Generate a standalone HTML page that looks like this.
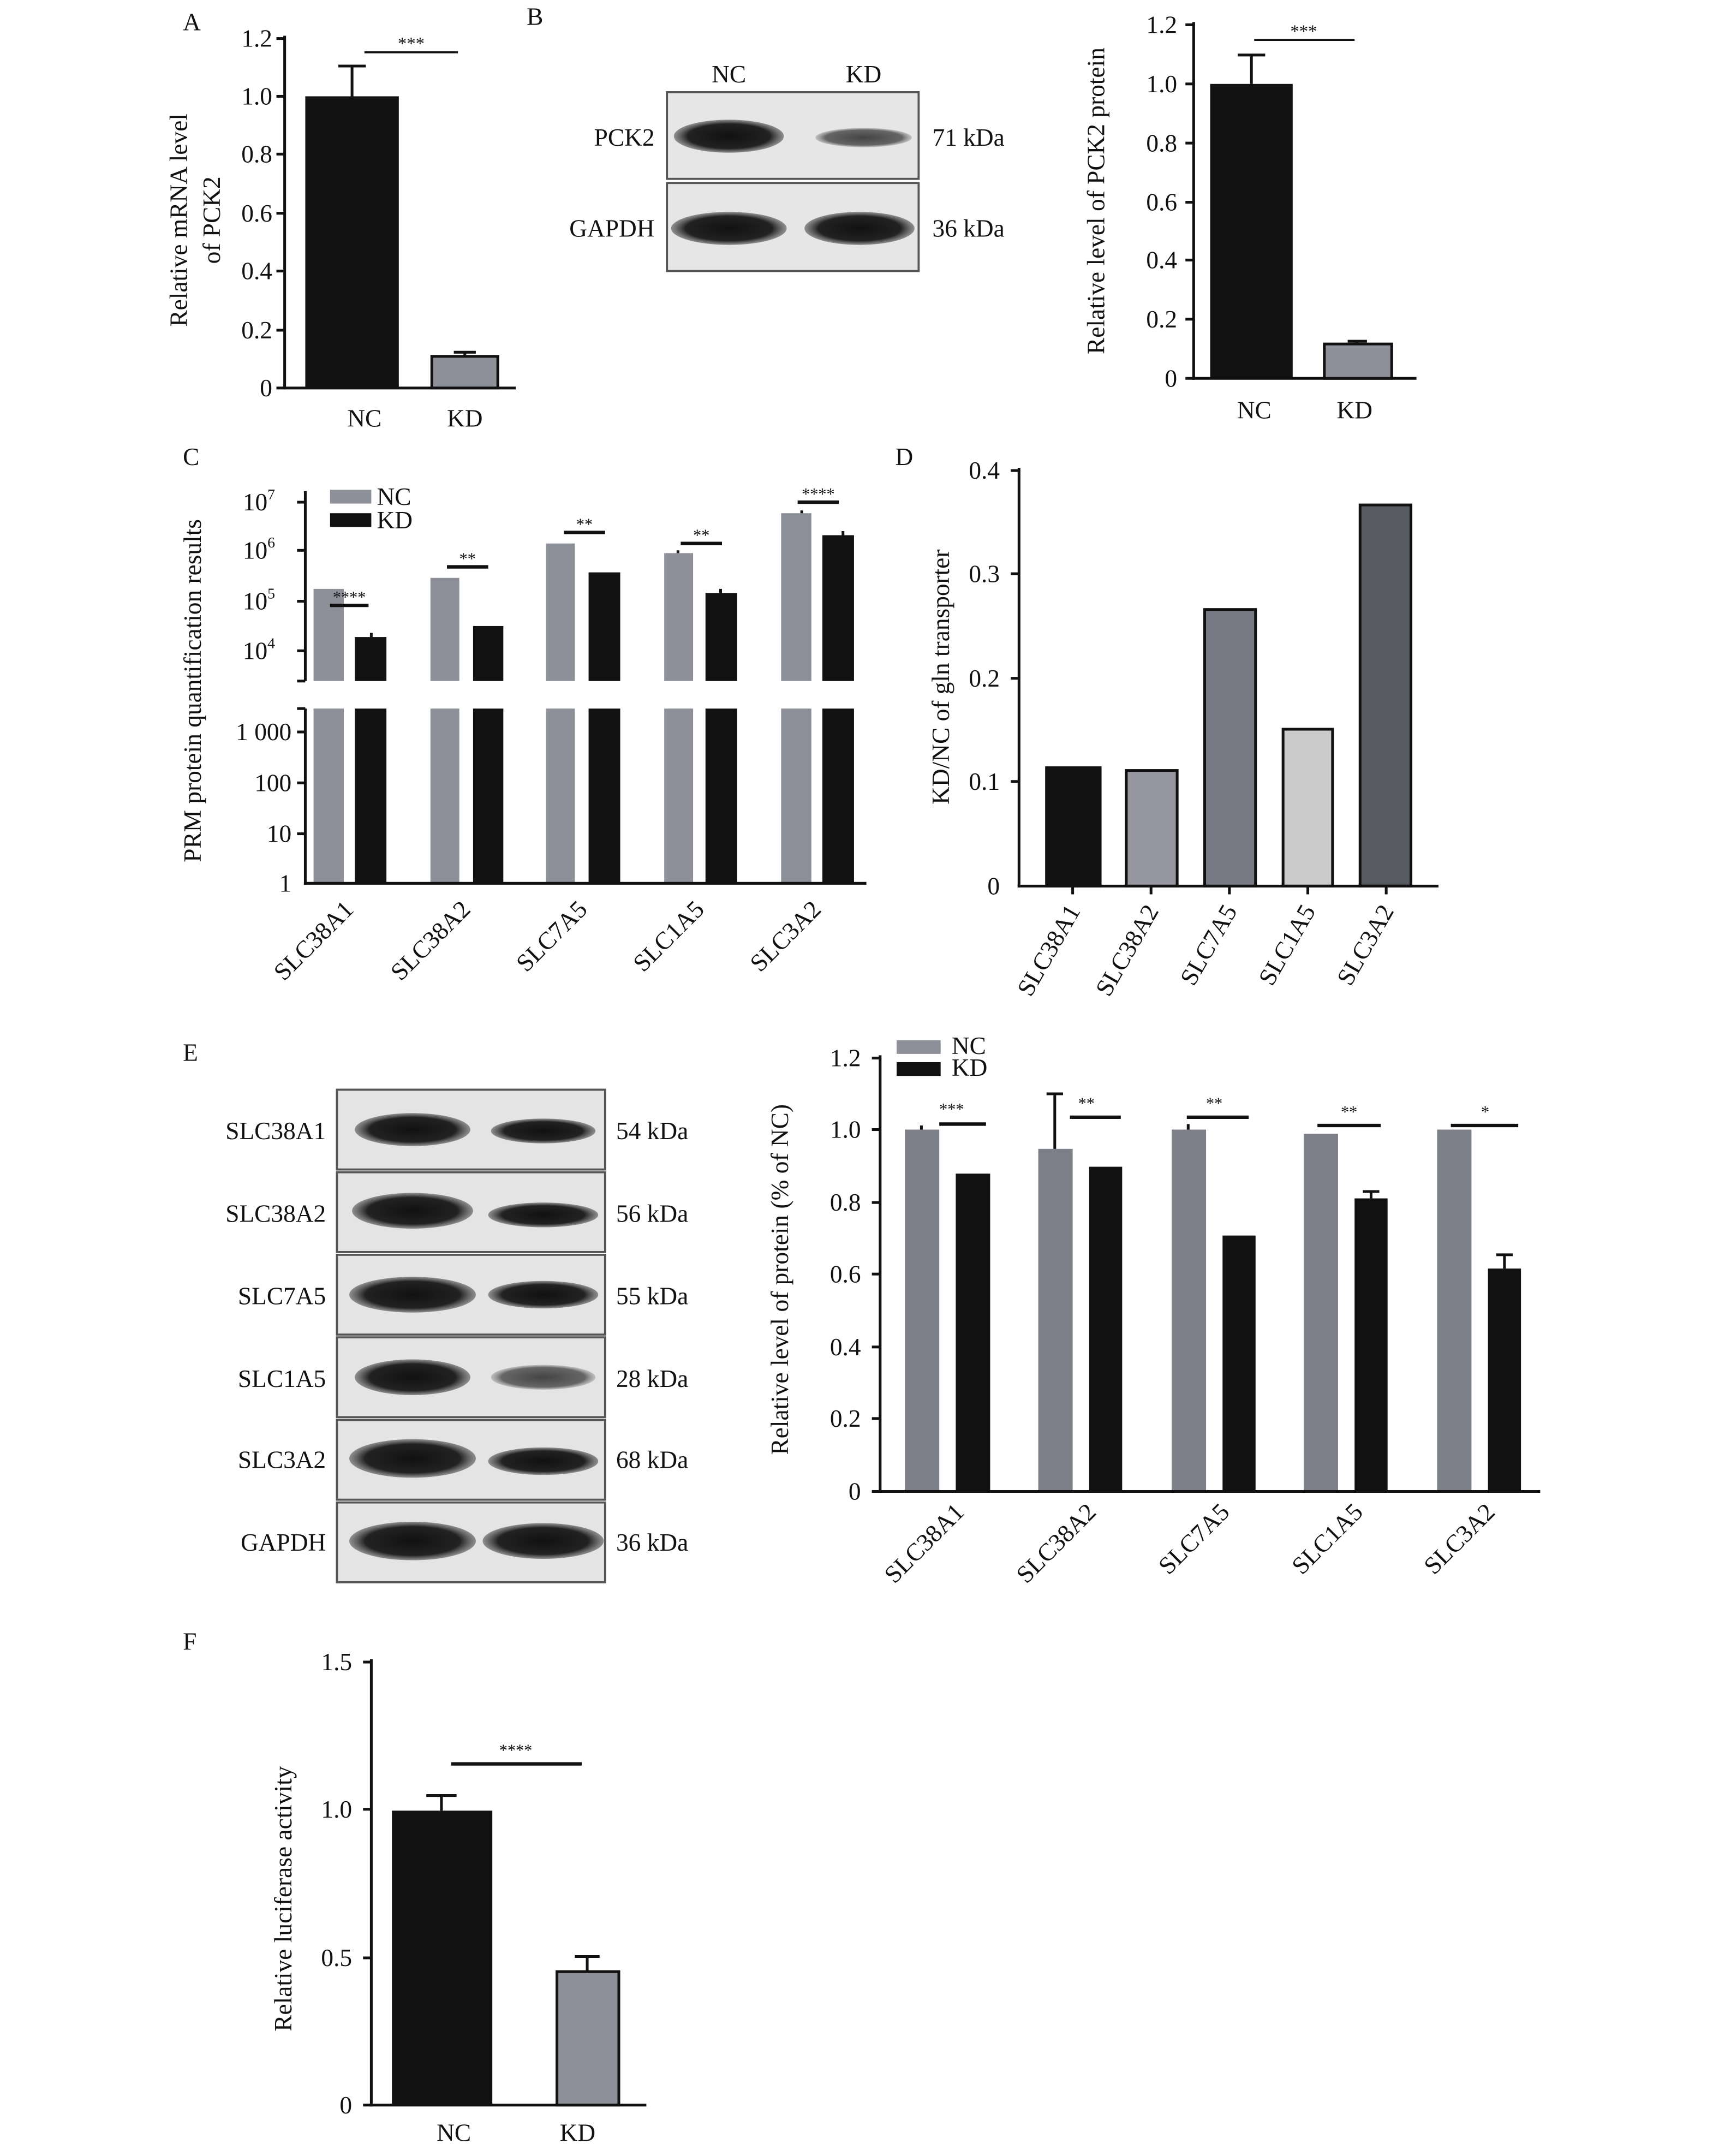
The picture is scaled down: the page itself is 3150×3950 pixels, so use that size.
<!DOCTYPE html>
<html><head><meta charset="utf-8"><style>html,body{margin:0;padding:0;background:#fff}svg{display:block}</style></head>
<body>
<svg width="3150" height="3950" viewBox="0 0 1250 1567" preserveAspectRatio="none" xmlns="http://www.w3.org/2000/svg" font-family="Liberation Serif, serif" font-size="18" fill="#111">
<defs>
<radialGradient id="band" cx="50%" cy="50%" r="50%"><stop offset="0" stop-color="#111"/><stop offset="0.75" stop-color="#222"/><stop offset="1" stop-color="#555" stop-opacity="0.6"/></radialGradient>
<radialGradient id="bandw" cx="50%" cy="50%" r="50%"><stop offset="0" stop-color="#444"/><stop offset="0.8" stop-color="#666"/><stop offset="1" stop-color="#999" stop-opacity="0.5"/></radialGradient>
</defs>
<rect width="1250" height="1567" fill="#fff"/>

<!-- Panel A -->
<text x="133" y="22">A</text>
<g stroke="#111" stroke-width="2" fill="none">
<line x1="207" y1="26" x2="207" y2="283"/><line x1="206" y1="282" x2="375" y2="282"/>
<line x1="201" y1="28" x2="207" y2="28"/><line x1="201" y1="70" x2="207" y2="70"/><line x1="201" y1="112" x2="207" y2="112"/><line x1="201" y1="155" x2="207" y2="155"/><line x1="201" y1="197" x2="207" y2="197"/><line x1="201" y1="240" x2="207" y2="240"/><line x1="201" y1="282" x2="207" y2="282"/>
<line x1="256" y1="70" x2="256" y2="48"/><line x1="246" y1="48" x2="266" y2="48"/>
<line x1="338" y1="259" x2="338" y2="256"/><line x1="330" y1="256" x2="346" y2="256"/>
<line x1="265" y1="38" x2="333" y2="38" stroke-width="1.5"/>
</g>
<rect x="222" y="70" width="68" height="212" fill="#111"/>
<rect x="314" y="259" width="48" height="23" fill="#8d9099" stroke="#111" stroke-width="2"/>
<text x="299" y="36" font-size="13" text-anchor="middle">***</text>
<g text-anchor="end"><text x="198" y="34">1.2</text><text x="198" y="76">1.0</text><text x="198" y="118">0.8</text><text x="198" y="161">0.6</text><text x="198" y="203">0.4</text><text x="198" y="246">0.2</text><text x="198" y="288">0</text></g>
<text x="265" y="310" text-anchor="middle">NC</text><text x="338" y="310" text-anchor="middle">KD</text>
<text transform="translate(136,160) rotate(-90)" text-anchor="middle">Relative mRNA level</text>
<text transform="translate(160,160) rotate(-90)" text-anchor="middle">of PCK2</text>

<!-- Panel B blot -->
<text x="383" y="18">B</text>
<text x="530" y="60" text-anchor="middle">NC</text><text x="628" y="60" text-anchor="middle">KD</text>
<rect x="485" y="67" width="183" height="63" fill="#e6e6e6" stroke="#555" stroke-width="1.5"/>
<rect x="485" y="133" width="183" height="64" fill="#e6e6e6" stroke="#555" stroke-width="1.5"/>
<ellipse cx="530" cy="99" rx="40" ry="12" fill="url(#band)"/>
<ellipse cx="628" cy="100" rx="35" ry="7" fill="url(#bandw)"/>
<ellipse cx="530" cy="166" rx="42" ry="12" fill="url(#band)"/>
<ellipse cx="625" cy="166" rx="40" ry="12" fill="url(#band)"/>
<text x="476" y="106" text-anchor="end">PCK2</text><text x="476" y="172" text-anchor="end">GAPDH</text>
<text x="678" y="106">71 kDa</text><text x="678" y="172">36 kDa</text>

<!-- Panel B chart -->
<g stroke="#111" stroke-width="2" fill="none">
<line x1="868" y1="16" x2="868" y2="276"/><line x1="867" y1="275" x2="1030" y2="275"/>
<line x1="862" y1="18" x2="868" y2="18"/><line x1="862" y1="61" x2="868" y2="61"/><line x1="862" y1="104" x2="868" y2="104"/><line x1="862" y1="147" x2="868" y2="147"/><line x1="862" y1="189" x2="868" y2="189"/><line x1="862" y1="232" x2="868" y2="232"/><line x1="862" y1="275" x2="868" y2="275"/>
<line x1="910" y1="61" x2="910" y2="40"/><line x1="900" y1="40" x2="920" y2="40"/>
<line x1="987" y1="250" x2="987" y2="248"/><line x1="980" y1="248" x2="994" y2="248"/>
<line x1="912" y1="29" x2="985" y2="29" stroke-width="1.5"/>
</g>
<rect x="880" y="61" width="60" height="214" fill="#111"/>
<rect x="963" y="250" width="49" height="25" fill="#8d9099" stroke="#111" stroke-width="2"/>
<text x="948" y="27" font-size="13" text-anchor="middle">***</text>
<g text-anchor="end"><text x="856" y="24">1.2</text><text x="856" y="67">1.0</text><text x="856" y="110">0.8</text><text x="856" y="153">0.6</text><text x="856" y="195">0.4</text><text x="856" y="238">0.2</text><text x="856" y="281">0</text></g>
<text x="912" y="304" text-anchor="middle">NC</text><text x="985" y="304" text-anchor="middle">KD</text>
<text transform="translate(803,146) rotate(-90)" text-anchor="middle">Relative level of PCK2 protein</text>

<!-- Panel C -->
<text x="133" y="338">C</text>
<g fill="#8d9099">
<rect x="228" y="428" width="22" height="214"/><rect x="313" y="420" width="21" height="222"/><rect x="397" y="395" width="21" height="247"/><rect x="483" y="402" width="21" height="240"/><rect x="568" y="373" width="22" height="269"/>
</g>
<g fill="#111">
<rect x="258" y="463" width="23" height="179"/><rect x="344" y="455" width="22" height="187"/><rect x="428" y="416" width="23" height="226"/><rect x="513" y="431" width="23" height="211"/><rect x="598" y="389" width="23" height="253"/>
</g>
<rect x="215" y="495" width="420" height="20" fill="#fff"/>
<g stroke="#111" stroke-width="2" fill="none">
<line x1="222" y1="357" x2="222" y2="495"/><line x1="222" y1="515" x2="222" y2="643"/><line x1="221" y1="642" x2="630" y2="642"/>
<line x1="216" y1="365" x2="222" y2="365"/><line x1="216" y1="400" x2="222" y2="400"/><line x1="216" y1="437" x2="222" y2="437"/><line x1="216" y1="473" x2="222" y2="473"/><line x1="216" y1="495" x2="222" y2="495"/>
<line x1="216" y1="515" x2="222" y2="515"/><line x1="216" y1="532" x2="222" y2="532"/><line x1="216" y1="569" x2="222" y2="569"/><line x1="216" y1="606" x2="222" y2="606"/>
<g stroke-width="2.5"><line x1="240" y1="440" x2="268" y2="440"/><line x1="325" y1="412" x2="355" y2="412"/><line x1="410" y1="387" x2="440" y2="387"/><line x1="495" y1="395" x2="525" y2="395"/><line x1="580" y1="365" x2="610" y2="365"/></g>
<line x1="270" y1="460" x2="270" y2="463"/><line x1="583" y1="371" x2="583" y2="373"/><line x1="613" y1="386" x2="613" y2="389"/><line x1="493" y1="400" x2="493" y2="402"/><line x1="524" y1="428" x2="524" y2="431"/>
</g>
<g font-size="12" text-anchor="middle"><text x="254" y="438">****</text><text x="340" y="410">**</text><text x="425" y="385">**</text><text x="510" y="393">**</text><text x="595" y="363">****</text></g>
<rect x="240" y="356" width="30" height="10" fill="#8d9099"/><rect x="240" y="373" width="30" height="10" fill="#111"/>
<text x="274" y="367">NC</text><text x="274" y="384">KD</text>
<g text-anchor="end"><text x="200" y="371">10<tspan font-size="11" dy="-8">7</tspan></text><text x="200" y="406">10<tspan font-size="11" dy="-8">6</tspan></text><text x="200" y="443">10<tspan font-size="11" dy="-8">5</tspan></text><text x="200" y="479">10<tspan font-size="11" dy="-8">4</tspan></text>
<text x="212" y="538">1 000</text><text x="212" y="575">100</text><text x="212" y="612">10</text><text x="212" y="648">1</text></g>
<text transform="translate(146,502) rotate(-90)" text-anchor="middle">PRM protein quantification results</text>
<g text-anchor="end"><text transform="translate(258,662) rotate(-45)">SLC38A1</text><text transform="translate(343,662) rotate(-45)">SLC38A2</text><text transform="translate(428,662) rotate(-45)">SLC7A5</text><text transform="translate(513,662) rotate(-45)">SLC1A5</text><text transform="translate(598,662) rotate(-45)">SLC3A2</text></g>

<!-- Panel D -->
<text x="651" y="338">D</text>
<g stroke="#111" stroke-width="2">
<rect x="761" y="558" width="39" height="86" fill="#111"/>
<rect x="819" y="560" width="37" height="84" fill="#95969f"/>
<rect x="876" y="443" width="37" height="201" fill="#777a83"/>
<rect x="933" y="530" width="36" height="114" fill="#cbcbcb"/>
<rect x="989" y="367" width="37" height="277" fill="#585a62"/>
</g>
<g stroke="#111" stroke-width="2" fill="none">
<line x1="741" y1="340" x2="741" y2="645"/><line x1="740" y1="644" x2="1046" y2="644"/>
<line x1="735" y1="342" x2="741" y2="342"/><line x1="735" y1="417" x2="741" y2="417"/><line x1="735" y1="493" x2="741" y2="493"/><line x1="735" y1="568" x2="741" y2="568"/>
<line x1="780" y1="644" x2="780" y2="650"/><line x1="837" y1="644" x2="837" y2="650"/><line x1="894" y1="644" x2="894" y2="650"/><line x1="951" y1="644" x2="951" y2="650"/><line x1="1008" y1="644" x2="1008" y2="650"/>
</g>
<g text-anchor="end"><text x="727" y="348">0.4</text><text x="727" y="423">0.3</text><text x="727" y="499">0.2</text><text x="727" y="574">0.1</text><text x="727" y="650">0</text></g>
<text transform="translate(690,492) rotate(-90)" text-anchor="middle">KD/NC of gln transporter</text>
<g text-anchor="end"><text transform="translate(786,662) rotate(-60)">SLC38A1</text><text transform="translate(843,662) rotate(-60)">SLC38A2</text><text transform="translate(900,662) rotate(-60)">SLC7A5</text><text transform="translate(957,662) rotate(-60)">SLC1A5</text><text transform="translate(1014,662) rotate(-60)">SLC3A2</text></g>

<!-- Panel E blot -->
<text x="133" y="771">E</text>
<g fill="#e4e4e4" stroke="#555" stroke-width="1.5">
<rect x="245" y="792" width="195" height="58"/><rect x="245" y="852" width="195" height="58"/><rect x="245" y="912" width="195" height="58"/><rect x="245" y="972" width="195" height="58"/><rect x="245" y="1032" width="195" height="58"/><rect x="245" y="1092" width="195" height="58"/>
</g>
<ellipse cx="300" cy="821" rx="42" ry="12" fill="url(#band)"/><ellipse cx="395" cy="822" rx="38" ry="9" fill="url(#band)"/>
<ellipse cx="300" cy="880" rx="44" ry="13" fill="url(#band)"/><ellipse cx="395" cy="883" rx="40" ry="9" fill="url(#band)"/>
<ellipse cx="300" cy="941" rx="46" ry="13" fill="url(#band)"/><ellipse cx="395" cy="941" rx="40" ry="10" fill="url(#band)"/>
<ellipse cx="300" cy="1001" rx="42" ry="13" fill="url(#band)"/><ellipse cx="395" cy="1001" rx="38" ry="9" fill="url(#bandw)"/>
<ellipse cx="300" cy="1060" rx="46" ry="14" fill="url(#band)"/><ellipse cx="395" cy="1062" rx="40" ry="10" fill="url(#band)"/>
<ellipse cx="300" cy="1120" rx="46" ry="14" fill="url(#band)"/><ellipse cx="395" cy="1120" rx="44" ry="13" fill="url(#band)"/>
<g text-anchor="end"><text x="237" y="828">SLC38A1</text><text x="237" y="888">SLC38A2</text><text x="237" y="948">SLC7A5</text><text x="237" y="1008">SLC1A5</text><text x="237" y="1067">SLC3A2</text><text x="237" y="1127">GAPDH</text></g>
<g><text x="448" y="828">54 kDa</text><text x="448" y="888">56 kDa</text><text x="448" y="948">55 kDa</text><text x="448" y="1008">28 kDa</text><text x="448" y="1067">68 kDa</text><text x="448" y="1127">36 kDa</text></g>

<!-- Panel E chart -->
<g fill="#7d8088">
<rect x="658" y="821" width="25" height="263"/><rect x="755" y="835" width="25" height="249"/><rect x="852" y="821" width="25" height="263"/><rect x="948" y="824" width="25" height="260"/><rect x="1045" y="821" width="25" height="263"/>
</g>
<g fill="#111">
<rect x="695" y="853" width="25" height="231"/><rect x="792" y="848" width="24" height="236"/><rect x="889" y="898" width="24" height="186"/><rect x="985" y="871" width="24" height="213"/><rect x="1082" y="922" width="24" height="162"/>
</g>
<g stroke="#111" stroke-width="2" fill="none">
<line x1="640" y1="767" x2="640" y2="1085"/><line x1="639" y1="1084" x2="1120" y2="1084"/>
<line x1="634" y1="769" x2="640" y2="769"/><line x1="634" y1="821" x2="640" y2="821"/><line x1="634" y1="874" x2="640" y2="874"/><line x1="634" y1="926" x2="640" y2="926"/><line x1="634" y1="979" x2="640" y2="979"/><line x1="634" y1="1031" x2="640" y2="1031"/><line x1="634" y1="1084" x2="640" y2="1084"/>
<g stroke-width="2.5"><line x1="683" y1="817" x2="717" y2="817"/><line x1="778" y1="812" x2="815" y2="812"/><line x1="863" y1="812" x2="908" y2="812"/><line x1="958" y1="818" x2="1004" y2="818"/><line x1="1055" y1="818" x2="1104" y2="818"/></g>
<line x1="767" y1="835" x2="767" y2="795"/><line x1="761" y1="795" x2="773" y2="795"/>
<line x1="1094" y1="922" x2="1094" y2="912"/><line x1="1088" y1="912" x2="1100" y2="912"/>
<line x1="997" y1="871" x2="997" y2="866"/><line x1="991" y1="866" x2="1003" y2="866"/>
<line x1="864" y1="821" x2="864" y2="817"/><line x1="670" y1="821" x2="670" y2="818"/>
</g>
<g font-size="12" text-anchor="middle"><text x="692" y="810">***</text><text x="790" y="806">**</text><text x="883" y="806">**</text><text x="981" y="812">**</text><text x="1080" y="812">*</text></g>
<rect x="652" y="756" width="32" height="10" fill="#8d9099"/><rect x="652" y="772" width="32" height="10" fill="#111"/>
<text x="692" y="766">NC</text><text x="692" y="782">KD</text>
<g text-anchor="end"><text x="626" y="775">1.2</text><text x="626" y="827">1.0</text><text x="626" y="880">0.8</text><text x="626" y="932">0.6</text><text x="626" y="985">0.4</text><text x="626" y="1037">0.2</text><text x="626" y="1090">0</text></g>
<text transform="translate(573,930) rotate(-90)" text-anchor="middle">Relative level of protein (% of NC)</text>
<g text-anchor="end"><text transform="translate(702,1100) rotate(-45)">SLC38A1</text><text transform="translate(798,1100) rotate(-45)">SLC38A2</text><text transform="translate(895,1100) rotate(-45)">SLC7A5</text><text transform="translate(992,1100) rotate(-45)">SLC1A5</text><text transform="translate(1088,1100) rotate(-45)">SLC3A2</text></g>

<!-- Panel F -->
<text x="133" y="1199">F</text>
<rect x="285" y="1316" width="73" height="214" fill="#111"/>
<rect x="405" y="1433" width="45" height="97" fill="#8d9099" stroke="#111" stroke-width="2"/>
<g stroke="#111" stroke-width="2" fill="none">
<line x1="270" y1="1206" x2="270" y2="1531"/><line x1="269" y1="1530" x2="470" y2="1530"/>
<line x1="264" y1="1208" x2="270" y2="1208"/><line x1="264" y1="1315" x2="270" y2="1315"/><line x1="264" y1="1423" x2="270" y2="1423"/><line x1="264" y1="1530" x2="270" y2="1530"/>
<line x1="321" y1="1316" x2="321" y2="1305"/><line x1="310" y1="1305" x2="332" y2="1305"/>
<line x1="427" y1="1433" x2="427" y2="1422"/><line x1="418" y1="1422" x2="436" y2="1422"/>
<line x1="328" y1="1282" x2="423" y2="1282" stroke-width="2.5"/>
</g>
<text x="375" y="1276" font-size="12" text-anchor="middle">****</text>
<g text-anchor="end"><text x="256" y="1214">1.5</text><text x="256" y="1321">1.0</text><text x="256" y="1429">0.5</text><text x="256" y="1536">0</text></g>
<text x="330" y="1556" text-anchor="middle">NC</text><text x="420" y="1556" text-anchor="middle">KD</text>
<text transform="translate(212,1380) rotate(-90)" text-anchor="middle">Relative luciferase activity</text>
</svg>
</body></html>
